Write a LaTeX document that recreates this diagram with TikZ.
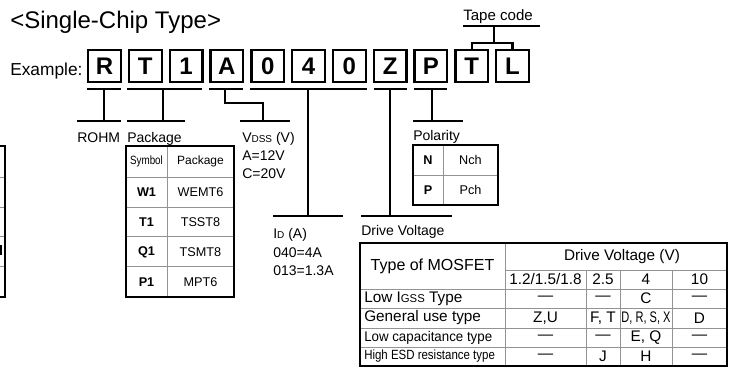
\documentclass[tikz,border=0pt]{standalone}
\usepackage{fontspec}
\setmainfont{Liberation Sans}
\usepackage{graphicx}
\usetikzlibrary{calc}
\tikzset{
 codebox/.style={draw,line width=1.7pt,minimum width=24.5pt,minimum height=24pt,inner sep=0,font=\fontsize{18}{18}\selectfont\bfseries},
 bar/.style={line width=2.2pt},
 thinbar/.style={line width=1.6pt},
 field/.style={anchor=base west,inner sep=0,font=\fontsize{10.5}{12}\selectfont},
 frame/.style={line width=1.9pt},
 rule/.style={line width=.6pt,draw=gray!85},
 cell/.style={inner sep=0,font=\fontsize{9}{10}\selectfont},
 bigcell/.style={inner sep=0,font=\fontsize{11.5}{13}\selectfont},
 rowhead/.style={anchor=west,inner sep=0,font=\fontsize{11.5}{13}\selectfont}
}
\newcommand\lowcap[1]{{\fontsize{7.5}{8}\selectfont #1}}
\newcommand\lowcapb[1]{{\fontsize{8.5}{9}\selectfont #1}}

\begin{document}
\begin{tikzpicture}[x=0.75pt,y=-0.75pt]
\path[use as bounding box] (0,0) rectangle (733,376);
\node[anchor=base west,inner sep=0,font=\fontsize{18}{20}\selectfont] (title) at (10,28) {<Single-Chip Type>};
\node[anchor=base west,inner sep=0,font=\fontsize{13}{14}\selectfont] (example) at (10,75) {Example:};
% code letters
\foreach \c [count=\i from 0] in {R,T,1,A,0,4,0,Z,P,T,L}
  \node[codebox] (b\i) at (104.5+40.8*\i,66) {\c};

% field names
\node[field] (rohm) at (77,142) {ROHM};
\node[field] (pkg) at (127,142) {Package};
\node[field] (vdss) at (242,142) {V\lowcap{DSS} (V)};
\node[field] (vdssa) at (242,160) {A=12V};
\node[field] (vdssc) at (242,178) {C=20V};
\node[field] (pol) at (413,140) {Polarity};
\node[field] (id) at (273,238) {I\lowcap{D} (A)};
\node[field] (ida) at (273,257) {040=4A};
\node[field] (idb) at (273,275) {013=1.3A};
\node[field] (drive) at (361,235) {Drive Voltage};
\node[field,font=\fontsize{11.3}{12}\selectfont] (tape) at (463,20) {Tape code};

% ROHM
\coordinate (rohmbar) at (104,121);
\draw[bar] (87,89) -- (121,89);
\draw[bar] (104,89) -- (rohmbar);
\draw[bar] (rohmbar -| rohm.west) -- (121,121);
% package
\coordinate (pkgbar) at (163,121);
\draw[bar] (127,89) -- (202,89);
\draw[bar] (163,89) -- (pkgbar);
\draw[bar] (pkgbar -| pkg.west) -- (185,121);
% VDSS
\coordinate (vdssbar) at (263,121);
\draw[bar] (209,89) -- (243,89);
\draw[bar] (225,89) -- (225,103) -- (263,103) -- (vdssbar);
\draw[bar] (240,121) -- (290,121);
% ID
\coordinate (idbar) at (308,216);
\draw[bar] (250,89) -- (367,89);
\draw[bar] (308,89) -- (idbar);
\draw[bar] (idbar -| id.west) -- (343,216);
% drive voltage
\coordinate (drivebar) at (390,216);
\draw[bar] (374,89) -- (407,89);
\draw[bar] (390,89) -- (drivebar);
\draw[bar] (drivebar -| drive.west) -- (452,216);
% polarity
\coordinate (polbar) at (432,121);
\draw[bar] (414,89) -- (447,89);
\draw[bar] (432,89) -- (polbar);
\draw[bar] (polbar -| pol.west) -- (463,121);
% tape code
\coordinate (tapebar) at (494,26);
\draw[bar] (tape.west |- tapebar) -- (540,26);
\draw[bar] (tapebar) -- (494,43);
\draw[thinbar] (b9.north) -- (b9.north |- 0,43) -- (b10.north |- 0,43) -- (b10.north);

% cut-off table at the left edge
\foreach \y in {177,207,236,266} \draw[rule] (0,\y) -- (5,\y);
\draw[frame] (0,146) -- (5,146) -- (5,297) -- (0,297);
\fill (0,245) rectangle (1.6,255);

% package table
\draw[rule] (167,146) -- (167,297);
\foreach \y in {177,207,236,266} \draw[rule] (126,\y) -- (234,\y);
\draw[frame] (126,146) rectangle (234,297);
\node[cell] (symh) at (146.5,161.5) {\scalebox{.82}[1]{Symbol}};
\node[cell] (pkgh) at (200.5,161.5) {Package};
\foreach \s/\p [count=\k] in {W1/WEMT6,T1/TSST8,Q1/TSMT8,P1/MPT6}{
  \node[cell,font=\fontsize{9.5}{10}\selectfont\bfseries] (s\k) at (146.5,162+30*\k) {\s};
  \node[cell,font=\fontsize{9.5}{10}\selectfont] (p\k) at (200.5,162+30*\k) {\p};
}

% polarity table
\draw[rule] (443,145) -- (443,205);
\draw[rule] (413,175) -- (498,175);
\draw[frame] (413,145) rectangle (498,205);
\node[cell,font=\fontsize{9.5}{10}\selectfont\bfseries] (n) at (428,160) {N};
\node[cell,font=\fontsize{9.5}{10}\selectfont] (nch) at (470.5,160) {Nch};
\node[cell,font=\fontsize{9.5}{10}\selectfont\bfseries] (p) at (428,190) {P};
\node[cell,font=\fontsize{9.5}{10}\selectfont] (pch) at (470.5,190) {Pch};

% drive voltage table
\draw[rule] (505,243) -- (505,366);
\foreach \x in {586,620,672} \draw[rule] (\x,270) -- (\x,366);
\draw[rule] (505,270) -- (727,270);
\foreach \y in {289,308,328,347} \draw[rule] (360,\y) -- (727,\y);
\draw[frame] (360,243) rectangle (727,366);
\node[bigcell,font=\fontsize{12}{13}\selectfont] (mos) at (432.5,266) {Type of MOSFET};
\node[bigcell] (dvh) at (622,256.5) {Drive Voltage (V)};
\foreach \x/\t [count=\k] in {545.5/1.2\slash1.5\slash1.8,603/2.5,646/4,699.5/10}
  \node[bigcell] (v\k) at (\x,279.5) {\t};
\node[rowhead] (r1) at (364,298.5) {Low I\lowcapb{GSS} Type};
\node[rowhead] (r2) at (364,318) {General use type};
\node[rowhead,font=\fontsize{10.5}{12}\selectfont] (r3) at (364,337.5) {\scalebox{.95}[1]{Low capacitance type}};
\node[rowhead,font=\fontsize{10}{11}\selectfont] (r4) at (364,356.5) {\scalebox{.86}[1]{High ESD resistance type}};
\foreach \x/\t [count=\k] in {545.5/—,603/—,646/C,699.5/—}
  \node[bigcell] (a\k) at (\x,298.5) {\t};
\node[bigcell] (b1x) at (545.5,318) {Z,U};
\node[bigcell] (b2x) at (603,318) {F, T};
\node[bigcell] (b3x) at (646,318) {\scalebox{.72}[1]{D, R, S, X}};
\node[bigcell] (b4x) at (699.5,318) {D};
\foreach \x/\t [count=\k] in {545.5/—,603/—,646/{E, Q},699.5/—}
  \node[bigcell] (c\k) at (\x,337.5) {\t};
\foreach \x/\t [count=\k] in {545.5/—,603/J,646/H,699.5/—}
  \node[bigcell] (d\k) at (\x,356.5) {\t};
\end{tikzpicture}
\end{document}
